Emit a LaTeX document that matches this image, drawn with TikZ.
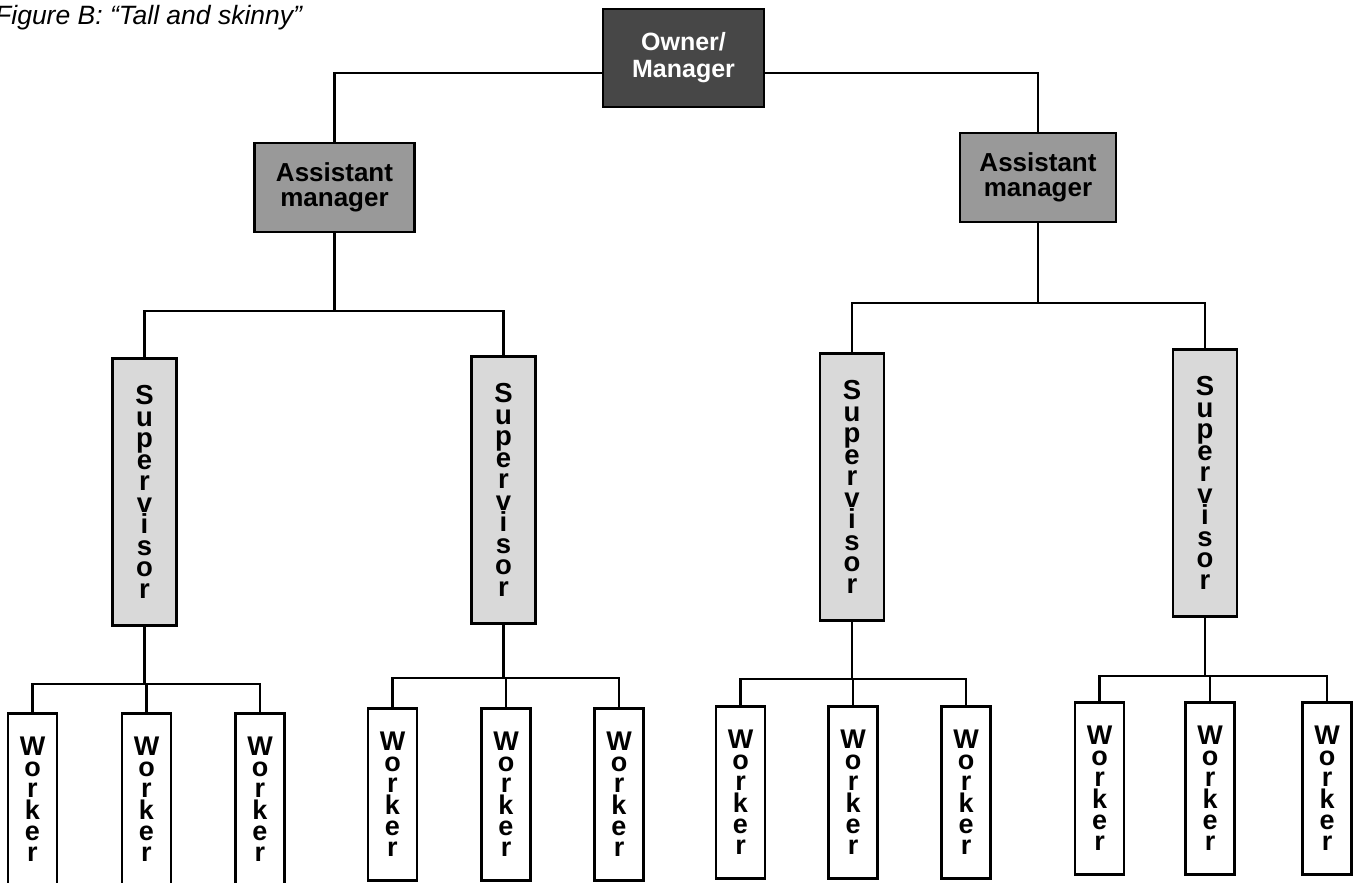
\documentclass[tikz,border=0pt]{standalone}
\usepackage{fontspec}
\setmainfont{Liberation Sans}
\usetikzlibrary{positioning}

\begin{document}
\lineskiplimit=-20pt
\begin{tikzpicture}[
  x=1pt, y=-1pt,
  box/.style={draw=black, line width=2.6pt, inner sep=0pt, align=center},
  ownerbox/.style={box, fill=black!72, text=white, minimum width=161pt, minimum height=98pt,
    font=\fontsize{25}{27}\selectfont\bfseries},
  asstbox/.style={box, fill=black!40, minimum width=160pt, minimum height=89pt,
    font=\fontsize{26}{25}\selectfont\bfseries},
  supbox/.style={box, fill=black!15, anchor=north, minimum width=64pt, minimum height=267pt,
    font=\fontsize{27.5}{21.5}\selectfont\bfseries},
  workbox/.style={box, fill=white, anchor=north, minimum width=49pt, minimum height=172pt,
    font=\fontsize{27}{21.2}\selectfont\bfseries},
  link/.style={line width=2.2pt}
]
\useasboundingbox (0,0) rectangle (1358,883);

% Title
\node[anchor=base west, inner sep=0pt, font=\fontsize{26.5}{30}\selectfont\itshape] (title) at (-5,25)
  {Figure B: “Tall and skinny”};

% Top levels
\node[ownerbox] (owner) at (683.5,58) {Owner/\\Manager};
\node[asstbox] (asstL) at (334.5,187.5) {Assistant\\manager};
\node[asstbox, minimum width=156pt] (asstR) at (1038,177.5) {Assistant\\manager};

\draw[link] ([yshift=-15pt]owner.west) -| (asstL.north);
\draw[link] ([yshift=-15pt]owner.east) -| (asstR.north);

% Supervisors
\node[supbox] (sup1) at (144.5,357) {S\\u\\p\\e\\r\\v\\i\\s\\o\\r};
\node[supbox] (sup2) at (503.5,355) {S\\u\\p\\e\\r\\v\\i\\s\\o\\r};
\node[supbox] (sup3) at (852,352) {S\\u\\p\\e\\r\\v\\i\\s\\o\\r};
\node[supbox] (sup4) at (1205,348) {S\\u\\p\\e\\r\\v\\i\\s\\o\\r};

\draw[link] (asstL.south) -- ++(0,78) -| (sup1.north);
\draw[link] (asstL.south) -- ++(0,78) -| (sup2.north);
\draw[link] (asstR.south) -- ++(0,80) -| (sup3.north);
\draw[link] (asstR.south) -- ++(0,80) -| (sup4.north);

% Workers
\foreach \g/\xa/\xb/\xc/\top/\bus in {1/32.5/146.5/260/712/684, 2/392.5/506/619/707/678,
    3/740.5/853/966/705/679, 4/1099.5/1210/1327/701/676} {
  \foreach \w/\x in {1/\xa, 2/\xb, 3/\xc} {
    \node[workbox] (w\g\w) at (\x,\top) {W\\o\\r\\k\\e\\r};
    \draw[link] (sup\g.south) -- (sup\g.south |- 0,\bus) -| (w\g\w.north);
  }
}

\end{tikzpicture}
\end{document}
